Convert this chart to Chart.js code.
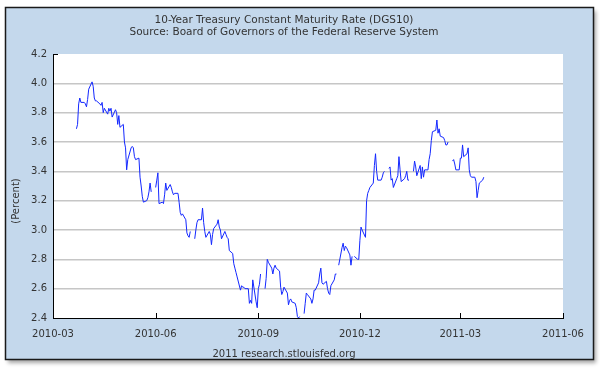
<!DOCTYPE html>
<html>
<head>
<meta charset="utf-8">
<script src="https://cdn.jsdelivr.net/npm/chart.js@4"></script>
<style>
  html, body { margin: 0; padding: 0; background: #fff; }
  #wrap { width: 600px; height: 375px; }
</style>
</head>
<body>
<div id="wrap"><canvas id="dgs10Chart" width="600" height="375"></canvas></div>
<script>
// DGS10 daily values (null = no trading / holiday gap)
const dates = [
  '2010-03-22','2010-03-23','2010-03-24','2010-03-25','2010-03-26','2010-03-29','2010-03-30','2010-03-31',
  '2010-04-01','2010-04-02','2010-04-05','2010-04-06','2010-04-07','2010-04-08','2010-04-09','2010-04-12',
  '2010-04-13','2010-04-14','2010-04-15','2010-04-16','2010-04-19','2010-04-20','2010-04-21','2010-04-22',
  '2010-04-23','2010-04-26','2010-04-27','2010-04-28','2010-04-29','2010-04-30',
  '2010-05-03','2010-05-04','2010-05-05','2010-05-06','2010-05-07','2010-05-10','2010-05-11','2010-05-12',
  '2010-05-13','2010-05-14','2010-05-17','2010-05-18','2010-05-19','2010-05-20','2010-05-21','2010-05-24',
  '2010-05-25','2010-05-26','2010-05-27','2010-05-28','2010-05-31',
  '2010-06-01','2010-06-02','2010-06-03','2010-06-04','2010-06-07','2010-06-08','2010-06-09','2010-06-10',
  '2010-06-11','2010-06-14','2010-06-15','2010-06-16','2010-06-17','2010-06-18','2010-06-21','2010-06-22',
  '2010-06-23','2010-06-24','2010-06-25','2010-06-28','2010-06-29','2010-06-30',
  '2010-07-01','2010-07-02','2010-07-05','2010-07-06','2010-07-07','2010-07-08','2010-07-09','2010-07-12',
  '2010-07-13','2010-07-14','2010-07-15','2010-07-16','2010-07-19','2010-07-20','2010-07-21','2010-07-22',
  '2010-07-23','2010-07-26','2010-07-27','2010-07-28','2010-07-29','2010-07-30',
  '2010-08-02','2010-08-03','2010-08-04','2010-08-05','2010-08-06','2010-08-09','2010-08-10','2010-08-11',
  '2010-08-12','2010-08-13','2010-08-16','2010-08-17','2010-08-18','2010-08-19','2010-08-20','2010-08-23',
  '2010-08-24','2010-08-25','2010-08-26','2010-08-27','2010-08-30','2010-08-31',
  '2010-09-01','2010-09-02','2010-09-03','2010-09-06','2010-09-07','2010-09-08','2010-09-09','2010-09-10',
  '2010-09-13','2010-09-14','2010-09-15','2010-09-16','2010-09-17','2010-09-20','2010-09-21','2010-09-22',
  '2010-09-23','2010-09-24','2010-09-27','2010-09-28','2010-09-29','2010-09-30',
  '2010-10-01','2010-10-04','2010-10-05','2010-10-06','2010-10-07','2010-10-08','2010-10-11','2010-10-12',
  '2010-10-13','2010-10-14','2010-10-15','2010-10-18','2010-10-19','2010-10-20','2010-10-21','2010-10-22',
  '2010-10-25','2010-10-26','2010-10-27','2010-10-28','2010-10-29',
  '2010-11-01','2010-11-02','2010-11-03','2010-11-04','2010-11-05','2010-11-08','2010-11-09','2010-11-10',
  '2010-11-11','2010-11-12','2010-11-15','2010-11-16','2010-11-17','2010-11-18','2010-11-19','2010-11-22',
  '2010-11-23','2010-11-24','2010-11-25','2010-11-26','2010-11-29','2010-11-30',
  '2010-12-01','2010-12-02','2010-12-03','2010-12-06','2010-12-07','2010-12-08','2010-12-09','2010-12-10',
  '2010-12-13','2010-12-14','2010-12-15','2010-12-16','2010-12-17','2010-12-20','2010-12-21','2010-12-22',
  '2010-12-23','2010-12-24','2010-12-27','2010-12-28','2010-12-29','2010-12-30','2010-12-31',
  '2011-01-03','2011-01-04','2011-01-05','2011-01-06','2011-01-07','2011-01-10','2011-01-11','2011-01-12',
  '2011-01-13','2011-01-14','2011-01-17','2011-01-18','2011-01-19','2011-01-20','2011-01-21','2011-01-24',
  '2011-01-25','2011-01-26','2011-01-27','2011-01-28','2011-01-31',
  '2011-02-01','2011-02-02','2011-02-03','2011-02-04','2011-02-07','2011-02-08','2011-02-09','2011-02-10',
  '2011-02-11','2011-02-14','2011-02-15','2011-02-16','2011-02-17','2011-02-18','2011-02-21','2011-02-22',
  '2011-02-23','2011-02-24','2011-02-25','2011-02-28',
  '2011-03-01','2011-03-02','2011-03-03','2011-03-04','2011-03-07','2011-03-08','2011-03-09','2011-03-10',
  '2011-03-11','2011-03-14','2011-03-15','2011-03-16','2011-03-17','2011-03-18','2011-03-21','2011-03-22'
];

const rates = [
  3.69,3.72,3.86,3.90,3.87,3.87,3.86,3.84,
  3.89,3.96,4.01,3.98,3.90,3.88,3.88,3.86,
  3.85,3.87,3.80,3.83,3.79,3.83,3.81,3.83,
  3.77,3.82,3.80,3.72,3.78,3.70,
  3.72,3.60,3.56,3.41,3.48,3.56,3.57,3.56,
  3.50,3.48,3.49,3.36,3.30,3.23,3.19,3.20,
  3.22,3.26,3.32,3.26,null,
  3.29,3.34,3.39,3.18,3.19,3.18,3.24,3.32,
  3.27,3.31,3.29,3.26,3.24,3.25,3.25,3.19,
  3.12,3.10,3.11,3.07,2.98,2.96,
  2.95,2.99,null,2.94,3.00,3.05,3.07,3.07,
  3.15,3.05,2.99,2.95,2.99,2.97,2.90,2.97,
  3.01,3.04,3.07,3.02,3.00,2.94,
  2.99,2.97,2.95,2.94,2.86,2.84,2.77,2.74,
  2.71,2.68,2.59,2.62,2.61,2.61,2.60,2.60,
  2.50,2.52,2.50,2.66,2.51,2.47,
  2.60,2.63,2.70,null,2.60,2.67,2.80,2.78,
  2.74,2.70,2.74,2.76,2.74,2.72,2.61,2.56,
  2.58,2.61,2.57,2.49,2.52,2.53,
  2.51,2.50,2.47,2.41,2.40,2.41,null,2.43,
  2.50,2.57,2.56,2.53,2.50,2.53,2.59,2.59,
  2.64,2.70,2.74,2.64,2.63,
  2.65,2.60,2.57,2.56,2.62,2.66,2.70,2.70,
  null,2.76,2.88,2.91,2.86,2.89,2.88,2.83,
  2.76,2.82,null,2.82,2.80,2.80,
  2.93,3.02,3.00,2.95,3.20,3.25,3.27,3.29,
  3.32,3.44,3.52,3.40,3.34,3.34,3.36,3.39,
  3.40,null,3.42,3.43,3.34,3.35,3.29,
  3.35,3.37,3.50,3.41,3.33,3.35,3.37,3.40,
  3.34,3.34,null,3.40,3.47,3.43,3.37,3.44,
  3.35,3.43,3.36,3.41,3.41,
  3.48,3.52,3.61,3.67,3.68,3.75,3.66,3.69,
  3.64,3.63,3.61,3.58,3.58,3.60,null,3.47,
  3.48,3.45,3.41,3.41,
  3.49,3.49,3.58,3.50,3.52,3.56,3.41,3.37,
  3.36,3.36,3.33,3.22,3.27,3.32,3.34,3.36
];

// x axis ticks (quarterly) and y axis range
const tickDates = ['2010-03-01','2010-06-01','2010-09-01','2010-12-01','2011-03-01','2011-06-01'];
const tickLabels = ['2010-03','2010-06','2010-09','2010-12','2011-03','2011-06'];
const yMin = 2.4, yMax = 4.2, yStep = 0.2;

const titleLines = [
  '10-Year Treasury Constant Maturity Rate (DGS10)',
  'Source: Board of Governors of the Federal Reserve System'
];
const yAxisTitle = '(Percent)';
const creditText = '2011 research.stlouisfed.org';

function dayNum(s) {
  const p = s.split('-');
  return Date.UTC(+p[0], +p[1] - 1, +p[2]) / 86400000;
}

const points = dates.map((d, i) => ({ x: dayNum(d), y: rates[i] }));

// light blue panel with dark frame, white plot area, inward tick marks
const framePlugin = {
  id: 'fredFrame',
  beforeDraw(chart) {
    const ctx = chart.ctx;
    const a = chart.chartArea;
    ctx.save();
    ctx.fillStyle = '#ffffff';
    ctx.fillRect(0, 0, chart.width, chart.height);
    ctx.shadowColor = 'rgba(0,0,0,0.35)';
    ctx.shadowBlur = 4;
    ctx.shadowOffsetX = 2;
    ctx.shadowOffsetY = 3;
    ctx.fillStyle = '#c4d8ec';
    ctx.fillRect(5.5, 7.5, 588, 352);
    ctx.shadowColor = 'transparent';
    ctx.lineWidth = 1.5;
    ctx.strokeStyle = '#1a1a1a';
    ctx.strokeRect(5.5, 7.5, 588, 352);
    ctx.fillStyle = '#ffffff';
    ctx.fillRect(a.left, a.top, a.right - a.left, a.bottom - a.top);
    ctx.restore();
  },
  afterDraw(chart) {
    const ctx = chart.ctx;
    const xs = chart.scales.x, ys = chart.scales.y;
    const a = chart.chartArea;
    ctx.save();
    ctx.strokeStyle = '#000';
    ctx.lineWidth = 1;
    ctx.beginPath();
    xs.ticks.forEach(t => {
      const px = Math.round(xs.getPixelForValue(t.value)) + 0.5;
      ctx.moveTo(px, a.bottom);
      ctx.lineTo(px, a.bottom - 5);
    });
    const top = Math.round(ys.getPixelForValue(yMax)) + 0.5;
    ctx.moveTo(a.left, top);
    ctx.lineTo(a.left + 5, top);
    ctx.stroke();
    // y axis caption, sits a little below the middle of the plot like the original
    ctx.translate(16, (a.top + a.bottom) / 2 + 15);
    ctx.rotate(-Math.PI / 2);
    ctx.fillStyle = '#333';
    ctx.font = '10px "DejaVu Sans", Verdana, sans-serif';
    ctx.textAlign = 'center';
    ctx.textBaseline = 'middle';
    ctx.fillText(yAxisTitle, 0, 0);
    ctx.restore();
  }
};

Chart.defaults.font.family = '"DejaVu Sans", Verdana, sans-serif';
Chart.defaults.color = '#333';

const ctx = document.getElementById('dgs10Chart').getContext('2d');
const chart = new Chart(ctx, {
  type: 'line',
  data: {
    datasets: [{
      label: 'DGS10',
      data: points,
      borderColor: '#1428ff',
      borderWidth: 1,
      pointRadius: 0,
      tension: 0,
      spanGaps: false
    }]
  },
  options: {
    responsive: false,
    animation: false,
    events: [],
    layout: { padding: { left: 5, right: 37, top: 0, bottom: 15 } },
    plugins: {
      legend: { display: false },
      tooltip: { enabled: false },
      title: {
        display: true,
        text: titleLines,
        color: '#333',
        font: { size: 10.5, weight: 'normal', lineHeight: 1.15 },
        padding: { top: 14, bottom: 15.85 }
      },
      subtitle: {
        display: true,
        position: 'bottom',
        text: creditText,
        color: '#333',
        font: { size: 10, weight: 'normal', lineHeight: 1.2 },
        padding: 0
      }
    },
    scales: {
      x: {
        type: 'linear',
        min: dayNum(tickDates[0]),
        max: dayNum(tickDates[tickDates.length - 1]),
        afterBuildTicks(scale) {
          scale.ticks = tickDates.map(d => ({ value: dayNum(d) }));
        },
        afterFit(scale) { scale.height = 30; },
        ticks: {
          autoSkip: false,
          maxRotation: 0,
          padding: 10,
          font: { size: 10 },
          color: '#333',
          callback: (v, i) => tickLabels[i]
        },
        grid: { display: true, color: 'rgba(0,0,0,0)', drawTicks: false },
        border: { display: true, color: '#000', width: 1 }
      },
      y: {
        min: yMin,
        max: yMax,
        afterFit(scale) { scale.width = 48; },
        ticks: {
          stepSize: yStep,
          padding: 6,
          font: { size: 10 },
          color: '#333',
          callback: v => v.toFixed(1)
        },
        grid: {
          drawTicks: false,
          lineWidth: 1.5,
          color: c => (c.tick && (Math.abs(c.tick.value - yMax) < 1e-6 || Math.abs(c.tick.value - yMin) < 1e-6))
            ? 'rgba(0,0,0,0)' : '#c6c6c6'
        },
        border: { display: true, color: '#000', width: 1 }
      }
    }
  },
  plugins: [framePlugin]
});
</script>
</body>
</html>
